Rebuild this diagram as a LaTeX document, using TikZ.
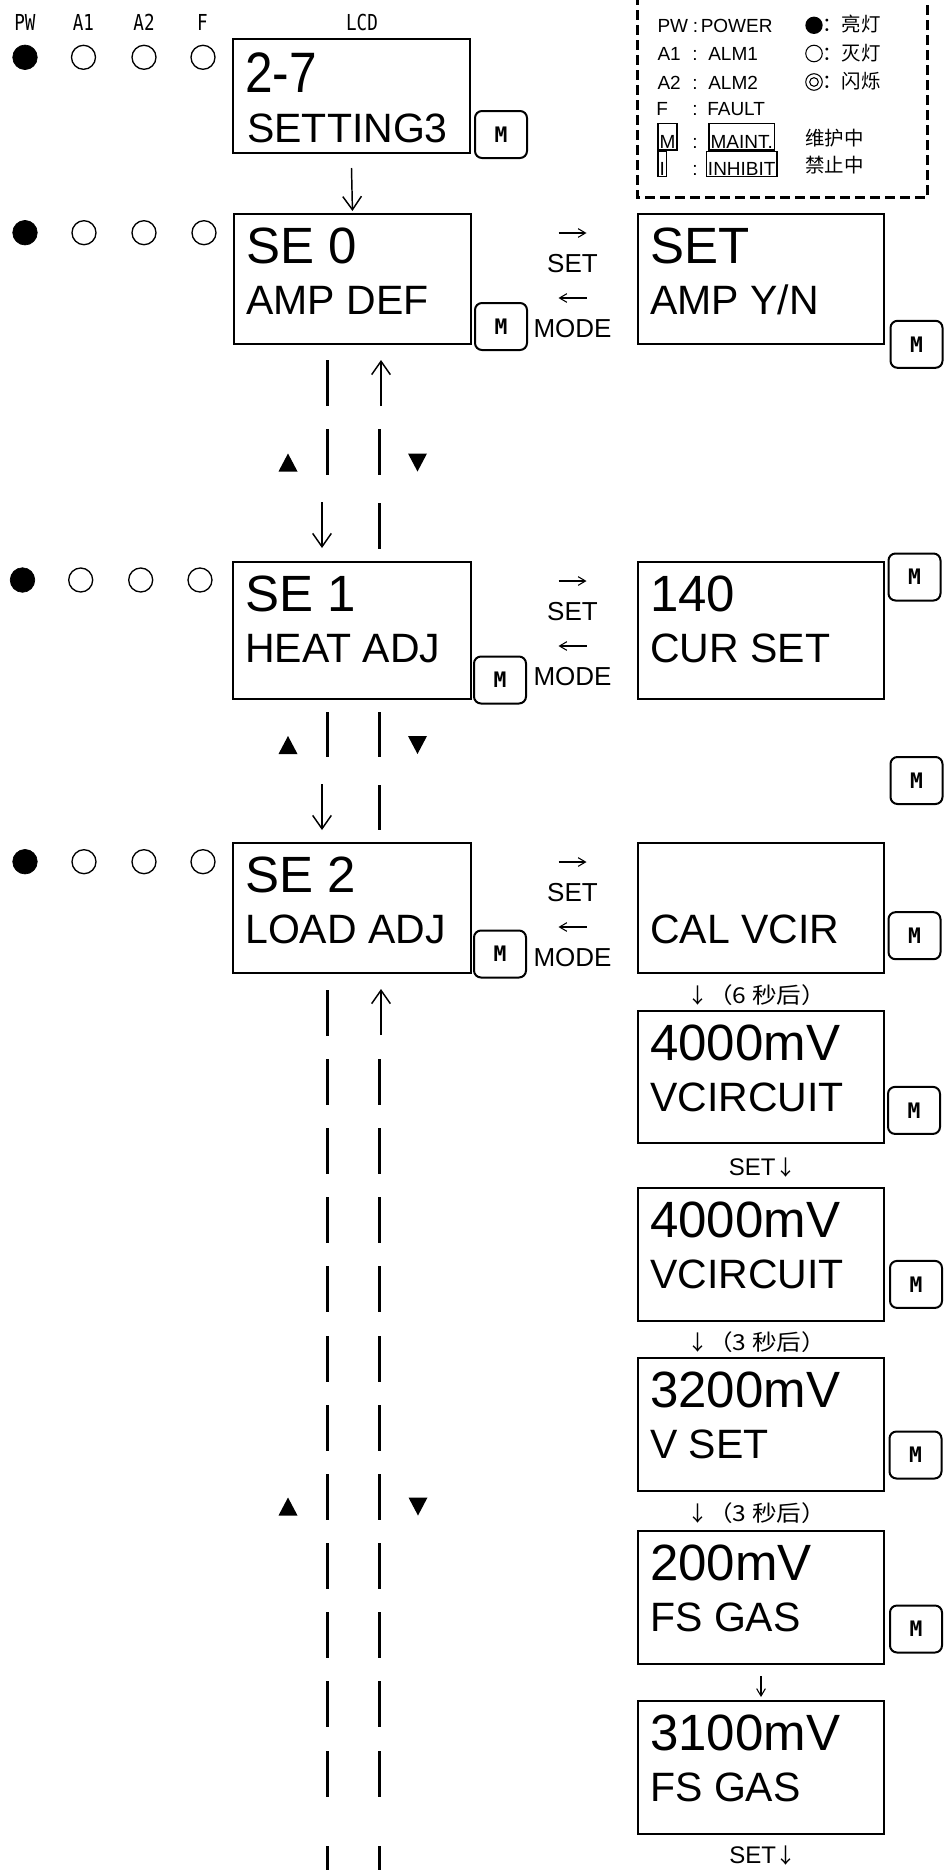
\documentclass[tikz,border=0pt]{standalone}
\usepackage{graphicx}
\usepackage{fontspec}
\setmainfont{Liberation Sans}
\newfontfamily\cjkfont{Noto Sans CJK SC}
\newfontfamily\gothfont{DejaVu Sans Mono}
\usetikzlibrary{arrows.meta,fit,calc}
\newcommand\SzA{\fontsize{38.25pt}{40pt}\selectfont}
\newcommand\SzB{\fontsize{30.75pt}{33pt}\selectfont}
\newcommand\SzBig{\fontsize{42.75pt}{45pt}\selectfont}
\newcommand\SzSet{\fontsize{19.5pt}{21pt}\selectfont}
\newcommand\SzLeg{\fontsize{14.25pt}{16pt}\selectfont}
\newcommand\SzLegC{\fontsize{14.6pt}{16pt}\selectfont}
\newcommand\SzStep{\fontsize{15.75pt}{17pt}\selectfont}
\newcommand\SzStepT{\fontsize{16.5pt}{18pt}\selectfont}
\newcommand\SzStepSet{\fontsize{18pt}{20pt}\selectfont}
\newcommand\SzHead{\fontsize{16.5pt}{18pt}\selectfont}
\newcommand\SzMb{\fontsize{16pt}{18pt}\selectfont}
\newcommand\Cond[1]{\scalebox{0.8}[1]{#1}}
\newcommand\Wide[1]{\scalebox{1.12}[1]{#1}}
\newcommand\LcdBox[7]{%
  \node[lcdbox,fit={(#2,#3)(#4,#5)}] (#1) {};
  \node[lineA] (#1-a) at ($(#1.north west)+(13,50)$) {#6};
  \node[lineB] (#1-b) at ($(#1.north west)+(13,101.5)$) {#7};}
\newcommand\SetMode[2]{%
  \draw[smallarrow] (558.5,#2+19) -- (586.5,#2+19);
  \node[setlbl] (#1-set) at (572.5,#2+58) {SET};
  \draw[smallarrow] (586.5,#2+84) -- (558.5,#2+84);
  \node[setlbl] (#1-mode) at (572.5,#2+123) {MODE};}
\newcommand\LedRow[6]{%
  \node[ledon] (#1-pw) at (#3,#2) {};
  \node[ledoff] (#1-a1) at (#4,#2) {};
  \node[ledoff] (#1-a2) at (#5,#2) {};
  \node[ledoff] (#1-f) at (#6,#2) {};}
\newcommand\TriUp[2]{\fill (#1-9.5,#2+9) -- (#1+9.5,#2+9) -- (#1,#2-9) -- cycle;}
\newcommand\TriDn[2]{\fill (#1-9.5,#2-9) -- (#1+9.5,#2-9) -- (#1,#2+9) -- cycle;}
\newcommand\StepTxt[1]{{\SzStep ↓}\Wide{#1}}
\begin{document}
\begin{tikzpicture}[x=0.75pt,y=-0.75pt,
  lcdbox/.style={draw,line width=1.5pt,inner sep=0pt},
  mbtn/.style={draw,line width=1.5pt,rounded corners=5.25pt,minimum width=39pt,minimum height=35.25pt,inner sep=0pt,font=\gothfont\bfseries\SzMb},
  lineA/.style={anchor=base west,inner sep=0pt,font=\SzA},
  lineB/.style={anchor=base west,inner sep=0pt,font=\SzB},
  ledon/.style={circle,fill=black,draw=black,line width=0.5pt,minimum size=18.4pt,inner sep=0pt},
  ledoff/.style={circle,draw=black,line width=1pt,minimum size=18pt,inner sep=0pt},
  setlbl/.style={anchor=base,inner sep=0pt,font=\SzSet},
  head/.style={anchor=base,inner sep=0pt,font=\gothfont\SzHead},
  dashseg/.style={line width=2.25pt},
  colarrow/.style={line width=1.1pt,-{Straight Barb[length=10pt,width=14pt]}},
  smallarrow/.style={line width=0.8pt,-{Straight Barb[length=5.5pt,width=6.5pt]}},
  leg/.style={anchor=base west,inner sep=0pt,font=\SzLeg},
  legc/.style={anchor=base west,inner sep=0pt,font=\cjkfont\SzLegC},
  legbox/.style={draw,line width=1pt,anchor=base west,inner xsep=1.2pt,inner ysep=0pt,font=\SzLeg},
  stepc/.style={anchor=base west,inner sep=0pt,font=\cjkfont\SzStepT},
  stepset/.style={anchor=base west,inner sep=0pt,font=\SzStepSet},
]
\fill[white] (0,0) rectangle (951,1870);
\useasboundingbox (0,0) rectangle (951,1870);

% header
\node[head] (hPW) at (25,30) {\Cond{PW}};
\node[head] (hA1) at (83.5,30) {\Cond{A1}};
\node[head] (hA2) at (144,30) {\Cond{A2}};
\node[head] (hF) at (202.5,30) {\Cond{F}};
\node[head] (hLCD) at (362,30) {\Cond{LCD}};

% legend
\draw[line width=1.9pt,dash pattern=on 7.5pt off 3.75pt] (637.5,-5) -- (637.5,197.5) -- (927.5,197.5) -- (927.5,-5);
\node[leg] (lg1k) at (657.3,32) {PW};
\node[leg] (lg1c) at (692.5,32) {:};
\node[leg] (lg1v) at (700.5,32) {POWER};
\node[leg] (lg2k) at (657.3,60.7) {A1};
\node[leg] (lg2c) at (692,60.7) {:};
\node[leg] (lg2v) at (708,60.7) {ALM1};
\node[leg] (lg3k) at (657.3,89.3) {A2};
\node[leg] (lg3c) at (692,89.3) {:};
\node[leg] (lg3v) at (708,89.3) {ALM2};
\node[leg] (lg4k) at (656,115.5) {F};
\node[leg] (lg4c) at (692,115.5) {:};
\node[leg] (lg4v) at (707,115.5) {FAULT};
\node[legbox,text height=18.5pt,text depth=1.5pt] (lg5k) at (657.3,148) {M};
\node[leg] (lg5c) at (692,148) {:};
\node[legbox,text height=18.5pt,text depth=1.5pt] (lg5v) at (708.3,148) {MAINT.};
\node[legbox,text height=17.5pt,text depth=1.3pt] (lg6k) at (657.3,175) {I};
\node[leg] (lg6c) at (692,175) {:};
\node[legbox,text height=17.5pt,text depth=1.3pt] (lg6v) at (705.7,175) {INHIBIT};
\node[circle,fill=black,minimum size=13pt,inner sep=0pt] (lgOn) at (814,25.3) {};
\node[circle,draw=black,line width=0.8pt,minimum size=12.4pt,inner sep=0pt] (lgOff) at (814,53.5) {};
\node[circle,draw=black,line width=0.8pt,minimum size=12.4pt,inner sep=0pt] (lgBl) at (814,82) {};
\node[circle,draw=black,line width=0.8pt,minimum size=6.5pt,inner sep=0pt] (lgBl2) at (814,82) {};
\node[legc] (lgOnT) at (822,31.5) {：亮灯};
\node[legc] (lgOffT) at (822,60) {：灭灯};
\node[legc] (lgBlT) at (822,88.5) {：闪烁};
\node[legc] (lgMT) at (805,145.5) {维护中};
\node[legc] (lgIT) at (805,172.5) {禁止中};

% LED rows
\LedRow{r0}{57.3}{25}{83.5}{144}{203}
\LedRow{r1}{232.7}{25}{84}{144}{204}
\LedRow{r2}{580}{22.5}{80.7}{140.7}{200}
\LedRow{r3}{861.7}{25}{84}{144}{203}

% top box 2-7
\node[lcdbox,fit={(233,39)(470,153)}] (b27) {};
\node[anchor=base west,inner sep=0pt,font=\SzBig] (b27-a) at ($(b27.north west)+(13,54)$) {\scalebox{0.87}[1]{2-7}};
\node[lineB] (b27-b) at ($(b27.north west)+(15,104)$) {SETTING3};

% LCD boxes
\LcdBox{se0}{234}{214}{471}{344}{SE 0}{AMP DEF}
\LcdBox{amp}{638}{214}{884}{344}{SET}{AMP Y/N}
\LcdBox{se1}{233}{562}{471}{699}{SE 1}{HEAT ADJ}
\LcdBox{cur}{638}{562}{884}{699}{140}{CUR SET}
\LcdBox{se2}{233}{843}{471}{973}{SE 2}{LOAD ADJ}
\LcdBox{cal}{638}{843}{884}{973}{}{CAL VCIR}
\LcdBox{v1}{638}{1011}{884}{1143}{4000mV}{VCIRCUIT}
\LcdBox{v2}{638}{1188}{884}{1321}{4000mV}{VCIRCUIT}
\LcdBox{v3}{638}{1358}{884}{1491}{3200mV}{V SET}
\LcdBox{v4}{638}{1531}{884}{1664}{200mV}{FS GAS}
\LcdBox{v5}{638}{1701}{884}{1834}{3100mV}{FS GAS}

% M buttons
\node[mbtn] (m0) at (501,134.5) {M};
\node[mbtn] (m1) at (501,326.5) {M};
\node[mbtn] (m2) at (916.5,344.3) {M};
\node[mbtn] (m3) at (500,680) {M};
\node[mbtn] (m4) at (914.5,577) {M};
\node[mbtn] (m5) at (916.5,780.5) {M};
\node[mbtn] (m6) at (500,954) {M};
\node[mbtn] (m7) at (914.5,935.7) {M};
\node[mbtn] (m8) at (914,1110.4) {M};
\node[mbtn] (m9) at (916,1284.4) {M};
\node[mbtn] (m10) at (915.5,1455) {M};
\node[mbtn] (m11) at (916,1629) {M};

% SET / MODE labels
\SetMode{sm0}{214}
\SetMode{sm1}{562}
\SetMode{sm2}{843}

% arrow 2-7 -> SE 0
\draw[colarrow,shorten >=1.5pt] ([yshift=-10.5pt]b27.south) -- (se0.north);

% columns SE0 - SE1
\foreach \s in {360,429} \draw[dashseg] (327,\s) -- (327,\s+46);
\draw[colarrow] (322,502) -- (322,548);
\draw[colarrow] (381,406) -- (381,360);
\foreach \s in {429,503} \draw[dashseg] (379,\s) -- (379,\s+46);
\TriUp{288}{462.5}
\TriDn{417.5}{462.5}

% columns SE1 - SE2
\draw[dashseg] (327,712) -- (327,757);
\draw[colarrow] (322,784) -- (322,830);
\foreach \s in {712,785} \draw[dashseg] (379,\s) -- (379,\s+45);
\TriUp{288}{745}
\TriDn{417.5}{745}

% columns below SE2
\foreach \s in {990,1059,1128,1197,1266,1336,1405,1474,1543,1612,1681,1751} \draw[dashseg] (327,\s) -- (327,\s+46);
\draw[dashseg] (327,1846) -- (327,1880);
\draw[colarrow] (381,1035) -- (381,989);
\foreach \s in {1059,1128,1197,1266,1336,1405,1474,1543,1612,1681,1751} \draw[dashseg] (379,\s) -- (379,\s+46);
\draw[dashseg] (379,1846) -- (379,1880);
\TriUp{288}{1506.5}
\TriDn{418}{1506.5}

% step labels on the right
\node[stepc] (s1t) at (687,1003) {\StepTxt{（6 秒后）}};
\node[stepset] (s2t) at (728.5,1175) {SET{\cjkfont\SzStep ↓}};
\node[stepc] (s3t) at (687,1350) {\StepTxt{（3 秒后）}};
\node[stepc] (s4t) at (687,1521) {\StepTxt{（3 秒后）}};
\draw[smallarrow] ([yshift=-8.25pt]v4.south) -- ([yshift=2.25pt]v5.north);
\node[stepset] (s6t) at (729,1863) {SET{\cjkfont\SzStep ↓}};
\end{tikzpicture}
\end{document}
